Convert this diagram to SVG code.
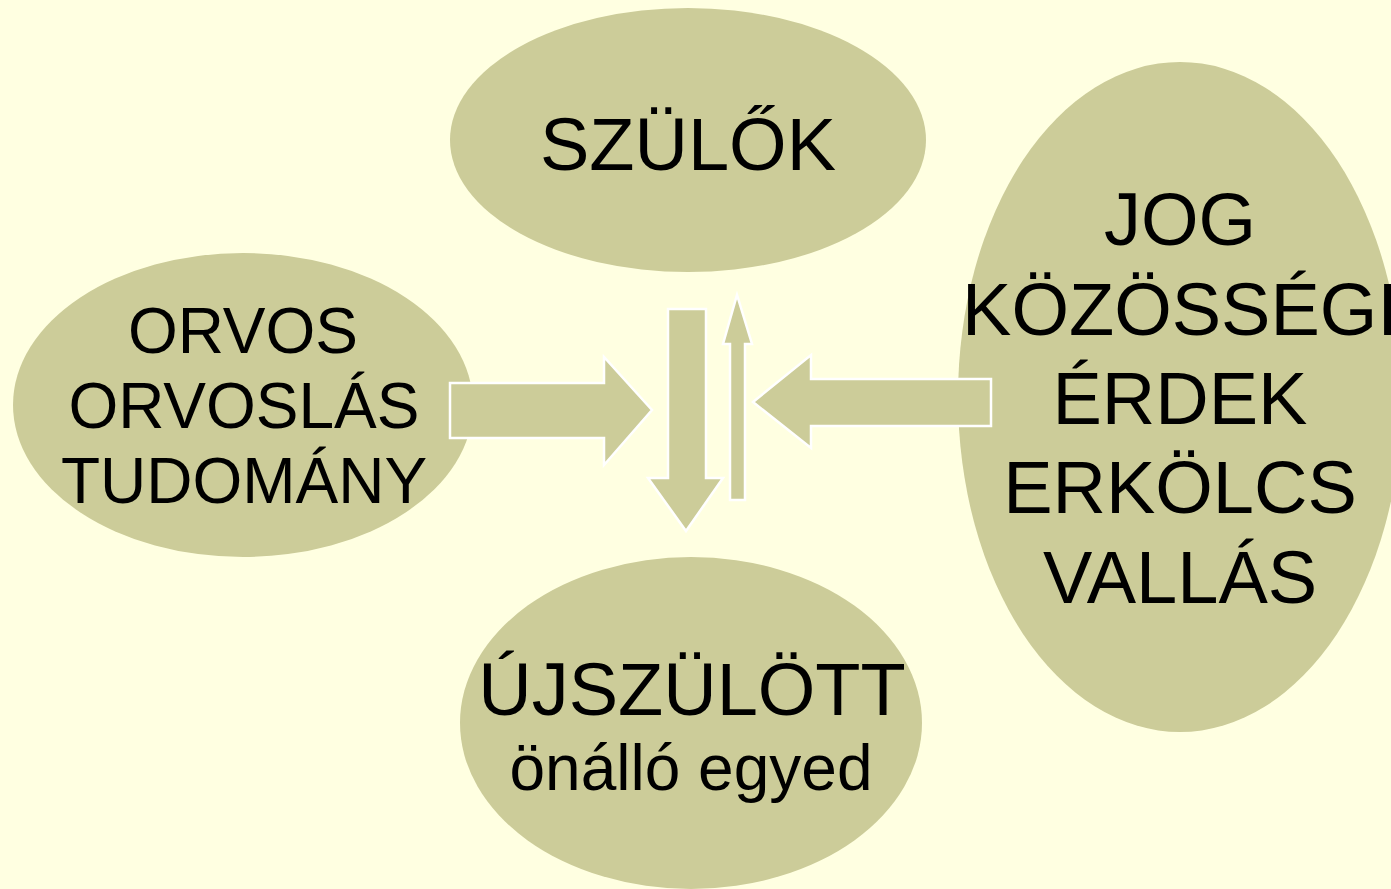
<svg xmlns="http://www.w3.org/2000/svg" width="1391" height="889" viewBox="0 0 1391 889">
<style>
.n{fill:#cccc99}
.a{fill:#cccc99;stroke:#ffffff;stroke-width:2.5;stroke-linejoin:miter}
text{font-family:"Liberation Sans",Arial,sans-serif;fill:#000;text-anchor:middle}
.big{font-size:74px}
.mid{font-size:64px}
</style>
<rect width="1391" height="889" fill="#ffffe1"/>
<g id="szulok"><ellipse class="n" cx="688" cy="140" rx="238" ry="132"/><text class="big" x="688" y="170">SZÜLŐK</text></g>
<g id="orvos"><ellipse class="n" cx="243" cy="405" rx="230" ry="152"/>
<text class="mid" x="243" y="353">ORVOS</text><text class="mid" x="244" y="428">ORVOSLÁS</text><text class="mid" x="244" y="503">TUDOMÁNY</text></g>
<g id="ujszulott"><ellipse class="n" cx="691" cy="723" rx="231" ry="166"/>
<text class="big" x="692" y="715">ÚJSZÜLÖTT</text><text class="mid" x="691" y="790">önálló egyed</text></g>
<g id="jog"><ellipse class="n" cx="1180" cy="397" rx="222" ry="335"/>
<text class="big" x="1180" y="245">JOG</text><text class="big" x="1180" y="335">KÖZÖSSÉGI</text><text class="big" x="1180" y="424">ÉRDEK</text><text class="big" x="1180" y="513">ERKÖLCS</text><text class="big" x="1180" y="603">VALLÁS</text></g>
<g id="connectors">
<polygon class="a" points="450,383 604,383 604,357 652,410 604,465 604,438 450,438"/>
<polygon class="a" points="991,379 811,379 811,355 753,402 811,448 811,426 991,426"/>
<polygon class="a" points="668,309 706,309 706,478 723,478 686,531 648,478 668,478"/>
<polygon class="a" points="730,500 745,500 745,344 752,344 737,295 723,344 730,344"/>
</g>
</svg>
